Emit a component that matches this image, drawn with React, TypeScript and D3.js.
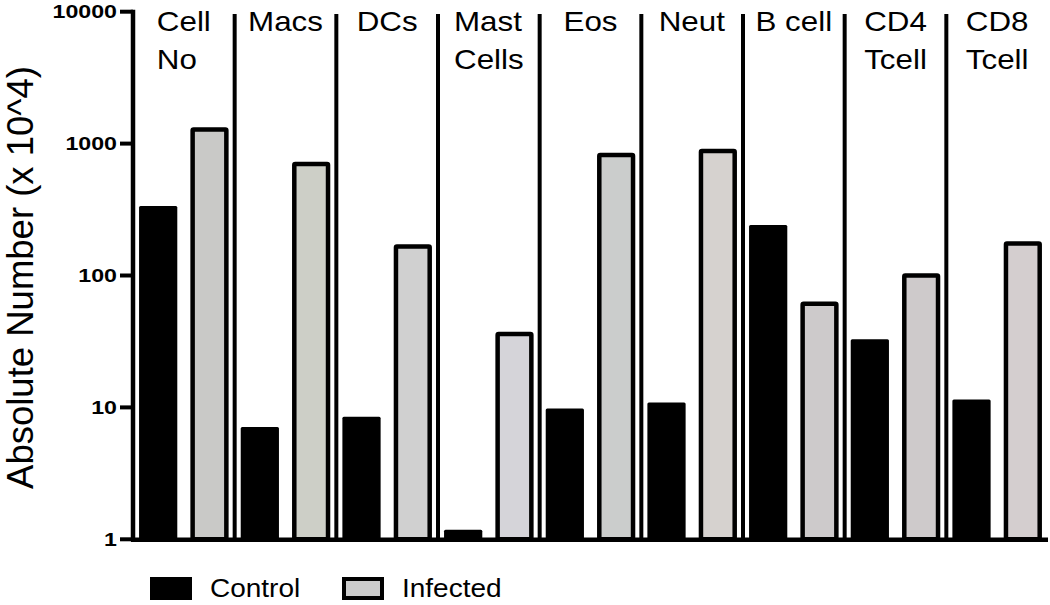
import React, { useEffect, useRef } from "react";
import * as d3 from "d3";

const categories = ["Cell No", "Macs", "DCs", "Mast Cells", "Eos", "Neut", "B cell", "CD4 Tcell", "CD8 Tcell"];
const categoryLines = [["Cell", "No"], ["Macs"], ["DCs"], ["Mast", "Cells"], ["Eos"], ["Neut"], ["B cell"], ["CD4", "Tcell"], ["CD8", "Tcell"]];
const seriesNames = ["Control", "Infected"];
const controlValues = [337, 7.1, 8.5, 1.18, 9.8, 10.9, 241, 32.8, 11.5];
const infectedValues = [1280, 700, 166, 36, 820, 880, 61, 100, 175];
const yTicks = [1, 10, 100, 1000, 10000];
const yLabel = "Absolute Number (x 10^4)";

const infectedFills = ["#c9c9c7", "#cdcfc7", "#d0d0d0", "#d5d4d9", "#cbcdcc", "#d6d2cf", "#cdcacb", "#cecacb", "#d4cecf"];
const FONT = "'Liberation Sans', Arial, Helvetica, sans-serif";

export default function App() {
  const ref = useRef<SVGSVGElement | null>(null);

  useEffect(() => {
    const svg = d3.select(ref.current);
    svg.selectAll("*").remove();

    const left = 133, right = 1048, top = 11.7, bottom = 539.3;
    const x0 = d3.scaleBand<string>().domain(categories).range([left, right]).paddingInner(0).paddingOuter(0);
    const x1 = d3.scaleBand<string>().domain(seriesNames).range([0, x0.bandwidth()]).paddingInner(0.255).paddingOuter(0.118);
    const y = d3.scaleLog().domain([1, 10000]).range([bottom, top]);
    const bw = x1.bandwidth();
    const sw = 4.5;

    const g = svg.append("g");

    // Control bars
    g.selectAll("rect.control")
      .data(controlValues)
      .join("rect")
      .attr("class", "control")
      .attr("x", (_, i) => (x0(categories[i]) as number) + (x1("Control") as number))
      .attr("y", (d) => y(d))
      .attr("width", bw)
      .attr("height", (d) => bottom - y(d))
      .attr("rx", 1.5)
      .attr("fill", "#000");

    // Infected bars
    g.selectAll("rect.infected")
      .data(infectedValues)
      .join("rect")
      .attr("class", "infected")
      .attr("x", (_, i) => (x0(categories[i]) as number) + (x1("Infected") as number) + sw / 2)
      .attr("y", (d) => y(d))
      .attr("width", bw - sw)
      .attr("height", (d) => bottom - y(d))
      .attr("rx", 1)
      .attr("fill", (_, i) => infectedFills[i])
      .attr("stroke", "#000")
      .attr("stroke-width", sw);

    // separators
    g.selectAll("line.sep")
      .data(categories.slice(1))
      .join("line")
      .attr("class", "sep")
      .attr("x1", (d) => x0(d) as number)
      .attr("x2", (d) => x0(d) as number)
      .attr("y1", 14)
      .attr("y2", bottom)
      .attr("stroke", "#000")
      .attr("stroke-width", 4);

    // y axis
    g.append("line")
      .attr("x1", left).attr("x2", left)
      .attr("y1", top - 2).attr("y2", bottom + 2)
      .attr("stroke", "#000").attr("stroke-width", 4.5);
    g.selectAll("line.tick")
      .data(yTicks)
      .join("line")
      .attr("class", "tick")
      .attr("x1", 120).attr("x2", left)
      .attr("y1", (d) => y(d)).attr("y2", (d) => y(d))
      .attr("stroke", "#000").attr("stroke-width", 4);
    g.selectAll("text.tl")
      .data(yTicks)
      .join("text")
      .attr("class", "tl")
      .attr("transform", (d) => `translate(117,${y(d)}) scale(1.22,1)`)
      .attr("dy", "0.35em")
      .attr("text-anchor", "end")
      .attr("font-family", FONT)
      .attr("font-weight", "bold")
      .attr("font-size", 19)
      .text((d) => String(d));

    // x axis baseline
    g.append("line")
      .attr("x1", left - 2).attr("x2", right)
      .attr("y1", bottom + 0.5).attr("y2", bottom + 0.5)
      .attr("stroke", "#000").attr("stroke-width", 4.5);

    // y label
    g.append("text")
      .attr("transform", `translate(33,277.5) rotate(-90)`)
      .attr("text-anchor", "middle")
      .attr("font-family", FONT)
      .attr("font-size", 36.5)
      .text(yLabel);

    // category labels
    categories.forEach((c, i) => {
      const lg = g.append("g");
      const t = lg.append("text")
        .attr("transform", "scale(1.12,1)")
        .attr("font-family", FONT)
        .attr("font-size", 28);
      categoryLines[i].forEach((line, j) => {
        t.append("tspan").attr("x", 0).attr("y", 31 + j * 38).text(line);
      });
      const w = (t.node() as SVGTextElement).getBBox().width * 1.12;
      const cx = (x0(c) as number) + x0.bandwidth() / 2;
      lg.attr("transform", `translate(${cx - w / 2},0)`);
    });

    // legend
    const legend = [
      { name: seriesNames[0], x: 150, fill: "#000", stroke: false },
      { name: seriesNames[1], x: 342, fill: "#cbcbcb", stroke: true },
    ];
    legend.forEach((l) => {
      if (l.stroke) {
        g.append("rect").attr("x", l.x + 2).attr("y", 579).attr("width", 38).attr("height", 19)
          .attr("fill", l.fill).attr("stroke", "#000").attr("stroke-width", 4);
      } else {
        g.append("rect").attr("x", l.x).attr("y", 577).attr("width", 42).attr("height", 23).attr("fill", l.fill);
      }
      g.append("text")
        .attr("transform", `translate(${l.x + 60},597) scale(1.12,1)`)
        .attr("font-family", FONT)
        .attr("font-size", 25)
        .text(l.name);
    });
  }, []);

  return (
    <svg
      ref={ref}
      width={1050}
      height={605}
      style={{ position: "absolute", left: 0, top: 0, background: "#fff" }}
    />
  );
}
